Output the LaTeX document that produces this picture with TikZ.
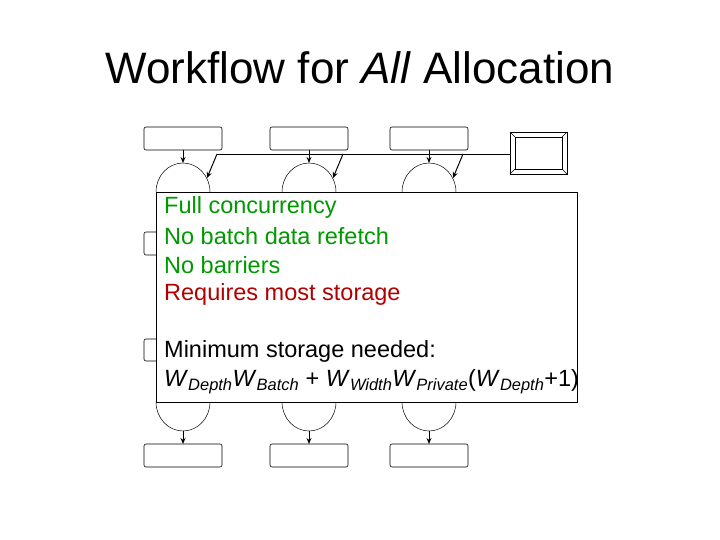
\documentclass[tikz,border=0pt]{standalone}
\usepackage{fontspec}
\setmainfont{Liberation Sans}
\usetikzlibrary{arrows.meta}
\begin{document}
\begin{tikzpicture}[x=1pt,y=-1pt,
 bx/.style={draw,rounded corners=2pt,fill=white,line width=0.6pt},
 arr/.style={-{Stealth[length=6pt,width=5pt]},line width=1pt},
 gr/.style={text=green!60!black},
 rd/.style={text=red!70!black}]
\useasboundingbox (0,0) rectangle (720,540);
\node at (360,68) {\fontsize{44}{50}\selectfont Workflow for \textit{All} Allocation};
\foreach \i/\x in {1/183,2/309,3/429}{
 \draw[bx] (\x-39,127) rectangle (\x+39,150);
 \draw[bx] (\x-39,444) rectangle (\x+39,467);
 \draw[bx] (\x-39,232) rectangle (\x+39,255);
 \draw[bx] (\x-39,339) rectangle (\x+39,361);
 \draw[line width=0.5pt] (\x-27,192) arc (180:360:27 and 29);
 \draw[line width=0.5pt] (\x-27,402) arc (180:0:27 and 29);
 \draw[arr] (\x,150) -- (\x,163);
 \draw[arr] (\x,431) -- (\x,444);
 \draw[arr] (\x+34,154) -- (\x+24,178);
}
\draw[line width=0.6pt] (217,154) -- (510,154);
\draw[line width=0.6pt] (510,132) rectangle (567,174);
\draw[line width=0.6pt] (515,137) rectangle (562,169);
\draw (510,132)--(515,137) (567,132)--(562,137) (510,174)--(515,169) (567,174)--(562,169);
\draw[fill=white,line width=0.6pt] (156,192) rectangle (577,402);
\begin{scope}[every node/.style={anchor=west,font=\fontsize{23.5}{28}\selectfont,inner sep=0}]
\node[gr] (a) at (164,207) {Full concurrency};
\node[gr] (b) at (164,236) {No batch data refetch};
\node[gr] (c) at (164,265) {No barriers};
\node[rd] (d) at (164,294) {Requires most storage};
\node (e) at (164,351) {Minimum storage needed:};
\node (f) at (164,382) {\textit{W}\textsubscript{\textit{Depth}}\textit{W}\textsubscript{\textit{Batch}} + \textit{W}\textsubscript{\textit{Width}}\textit{W}\textsubscript{\textit{Private}}(\textit{W}\textsubscript{\textit{Depth}}+1)};
\end{scope}
\end{tikzpicture}
\end{document}
